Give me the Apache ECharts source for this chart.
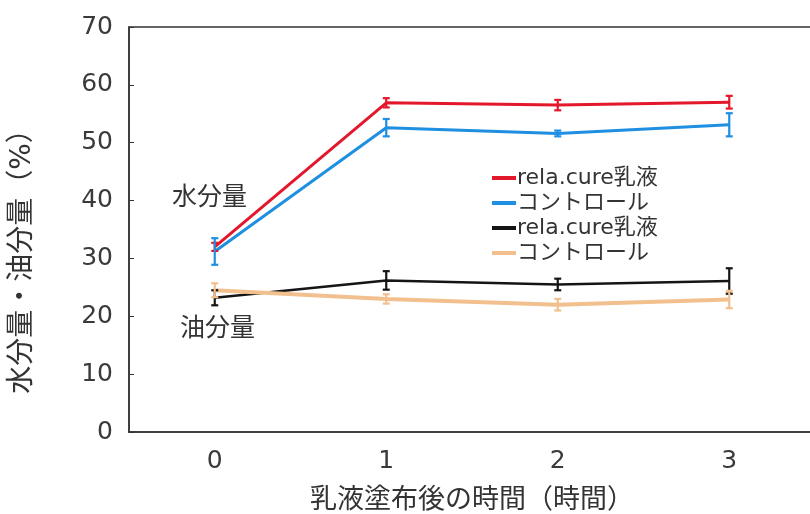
<!DOCTYPE html>
<html><head><meta charset="utf-8">
<script src="https://cdn.jsdelivr.net/npm/echarts@6/dist/echarts.min.js"></script>
<style>html,body{margin:0;padding:0;background:#fff}#c{width:810px;height:514px}</style>
</head><body><div id="c"></div>
<script>
const categories = ['0', '1', '2', '3'];
const yTicks = [0, 10, 20, 30, 40, 50, 60, 70];
const waterRela = [32.0, 56.9, 56.5, 57.0];
const waterRelaErr = [0.7, 0.8, 0.9, 1.1];
const waterCtrl = [31.2, 52.6, 51.6, 53.1];
const waterCtrlErr = [2.3, 1.5, 0.5, 2.0];
const oilRela = [23.2, 26.2, 25.5, 26.1];
const oilRelaErr = [1.3, 1.6, 1.0, 2.2];
const oilCtrl = [24.5, 23.0, 22.0, 22.9];
const oilCtrlErr = [1.2, 0.8, 1.0, 1.5];
const seriesNames = ['rela.cure乳液', 'コントロール', 'rela.cure乳液 ', 'コントロール '];
const annotations = ['水分量', '油分量'];

const colors = ['#e3182b', '#1e8fe1', '#151515', '#f2c08e'];
const widths = [3, 3, 2.5, 4];
const values = [waterRela, waterCtrl, oilRela, oilCtrl];
const errs = [waterRelaErr, waterCtrlErr, oilRelaErr, oilCtrlErr];
const font = '"DejaVu Sans", "Noto Sans CJK JP", sans-serif';
const cjk = '"Noto Sans CJK JP", sans-serif';

const chart = echarts.init(document.getElementById('c'));
const series = [];
values.forEach((v, k) => {
  series.push({
    name: seriesNames[k], type: 'line', data: v, showSymbol: false, symbol: 'none',
    lineStyle: { color: colors[k], width: widths[k] }, itemStyle: { color: colors[k] },
    z: 3 + k, animation: false
  });
});
values.forEach((v, k) => {
  series.push({
    type: 'custom', z: 10 + k, animation: false,
    data: v.map((y, i) => [i, y - errs[k][i], y + errs[k][i]]),
    renderItem: function (params, api) {
      const lo = api.coord([api.value(0), api.value(1)]);
      const hi = api.coord([api.value(0), api.value(2)]);
      const w = 3.5;
      const st = { stroke: colors[k], lineWidth: 2.2 };
      return { type: 'group', children: [
        { type: 'line', shape: { x1: lo[0], y1: lo[1], x2: hi[0], y2: hi[1] }, style: st },
        { type: 'line', shape: { x1: lo[0] - w, y1: lo[1], x2: lo[0] + w, y2: lo[1] }, style: st },
        { type: 'line', shape: { x1: hi[0] - w, y1: hi[1], x2: hi[0] + w, y2: hi[1] }, style: st }
      ]};
    }
  });
});

chart.setOption({
  backgroundColor: '#fff',
  animation: false,
  grid: { left: 129, top: 27, width: 686, height: 405, outerBoundsMode: 'none', containLabel: false,
          show: true, borderColor: '#333', borderWidth: 1.5 },
  legend: {
    data: seriesNames.map((n, k) => ({ name: n, icon: 'rect', itemStyle: { color: colors[k] } })),
    orient: 'vertical', left: 487, top: 162, itemWidth: 24, itemHeight: 4, itemGap: 3,
    formatter: n => n.trim(),
    textStyle: { fontFamily: font, fontSize: 22, color: '#333', padding: [0, 0, 0, -4] },
    selectedMode: false
  },
  xAxis: {
    type: 'category', data: categories, boundaryGap: true,
    name: '乳液塗布後の時間（時間）', nameLocation: 'middle', nameGap: 52,
    nameTextStyle: { fontFamily: cjk, fontSize: 27, color: '#333' },
    axisLine: { lineStyle: { color: '#333', width: 1.5 } },
    axisTick: { alignWithLabel: true, inside: true, length: 5, lineStyle: { color: '#333' } },
    axisLabel: { fontFamily: font, fontSize: 25, color: '#3a3a3a', margin: 17 },
    splitLine: { show: false }
  },
  yAxis: {
    type: 'value', min: yTicks[0], max: yTicks[yTicks.length - 1], interval: 10,
    name: '水分量・油分量（%）', nameLocation: 'middle', nameGap: 92, nameRotate: 90,
    nameTextStyle: { fontFamily: font, fontSize: 28, color: '#333', padding: [0, 50, 0, 0] },
    axisLine: { show: true, lineStyle: { color: '#333', width: 1.5 } },
    axisTick: { show: true, inside: true, length: 5, lineStyle: { color: '#333' } },
    axisLabel: { fontFamily: font, fontSize: 25, color: '#3a3a3a', margin: 16 },
    splitLine: { show: false }
  },
  graphic: [
    { type: 'text', left: 172, top: 183, style: { text: annotations[0], font: '25px ' + cjk, fill: '#333' } },
    { type: 'text', left: 180, top: 314, style: { text: annotations[1], font: '25px ' + cjk, fill: '#333' } }
  ],
  series: series
});
</script></body></html>
